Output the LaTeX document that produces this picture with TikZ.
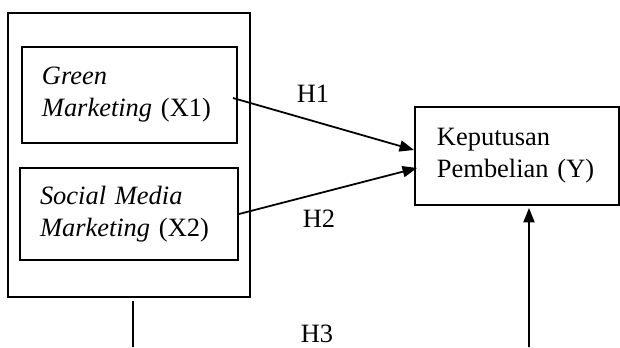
\documentclass[tikz,border=0pt]{standalone}
\usepackage{fontspec}
\setmainfont{Liberation Serif}
\usepackage{tikz}
\usetikzlibrary{arrows.meta}

\begin{document}
\begin{tikzpicture}[x=0.45pt, y=-0.45pt,
                font=\fontsize{11.9pt}{14.4pt}\selectfont,
                varbox/.style={draw, line width=0.9pt, fill=white, align=left},
                link/.style={line width=0.8pt, -{Triangle[length=6.5pt,width=5pt]}}]
                % Frame of the picture
                \useasboundingbox (0,0) rectangle (620,347);
                
                % Group of independent variables
                \node[draw, line width=0.9pt, fill=white, minimum width=108.9pt, minimum height=127.8pt] (group) at (129,155) {};
                \node[varbox, inner xsep=9pt, text width=78.75pt, minimum height=43.2pt] (green) at (129.5,95) {\textit{Green}\\\textit{Marketing} (X1)};
                \node[varbox, inner xsep=9pt, text width=80.1pt, minimum height=41.4pt] (social) at (129,214) {\textit{Social Media}\\\textit{Marketing} (X2)};
                
                % Dependent variable
                \node[varbox, inner xsep=9.9pt, text width=72pt, minimum height=44.1pt] (kep) at (517,156) {Keputusan\\Pembelian (Y)};
                
                % Hypotheses
                \draw[link] ([xshift=-2.25pt,yshift=-1.35pt]green.east) -- ([yshift=2.7pt]kep.west);
                \draw[link] (social.east) -- ([xshift=1.35pt,yshift=-5.4pt]kep.west);
                \coordinate (xfoot) at (133,347);
                \coordinate (yfoot) at (529,347);
                \draw[line width=0.8pt] ([xshift=1.8pt,yshift=-1.35pt]group.south) -- (xfoot);
                \draw[link] (yfoot) -- ([xshift=5.4pt,yshift=-0.9pt]kep.south);
                
                % Labels
                \node (h1) at (313,94) {H1};
                \node (h2) at (319,219) {H2};
                \node (h3) at (317,334) {H3};
            \end{tikzpicture}
\end{document}
